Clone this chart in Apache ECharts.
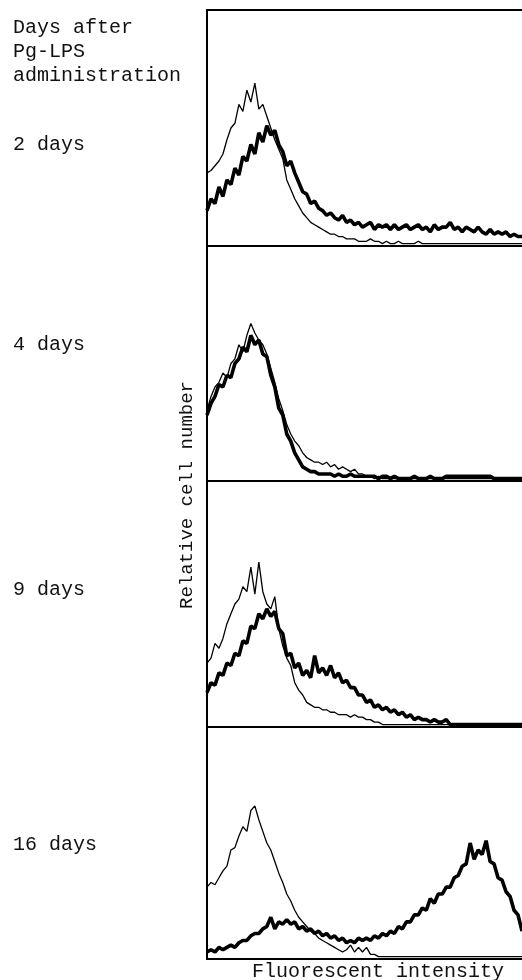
<!DOCTYPE html>
<html>
<head>
<meta charset="utf-8">
<script src="https://cdn.jsdelivr.net/npm/echarts@6/dist/echarts.min.js"></script>
<style>
html, body { margin: 0; padding: 0; background: #fff; }
#chart { width: 522px; height: 980px; }
</style>
</head>
<body>
<div id="chart"></div>
<script>
// text
const headerLines = ['Days after', 'Pg-LPS', 'administration']
const panelLabels = ['2 days', '4 days', '9 days', '16 days']
const xAxisLabel = 'Fluorescent intensity'
const yAxisLabel = 'Relative cell number'

// histograms, % of panel height, 80 channels each
// thin = control, thick = Pg-LPS
const thin2d = [31, 32, 34, 36, 39, 45, 50, 52, 60, 57,
  66, 61, 69, 58, 60, 55, 50, 45, 41, 37,
  28, 24, 20, 17, 14, 12, 10, 9, 8, 7,
  6, 5, 5, 4, 4, 3, 3, 3, 2, 2,
  2, 3, 2, 2, 1, 2, 1, 1, 2, 1,
  1, 1, 1, 2, 1, 1, 1, 1, 1, 1,
  1, 1, 1, 1, 1, 1, 1, 1, 1, 1,
  1, 1, 1, 1, 1, 1, 1, 1, 1, 1]
const thick2d = [15, 20, 18, 25, 21, 28, 26, 33, 30, 38,
  36, 43, 39, 48, 44, 51, 47, 49, 43, 40,
  34, 36, 31, 27, 23, 22, 18, 19, 16, 15,
  13, 14, 12, 11, 13, 10, 11, 9, 10, 8,
  9, 10, 7, 9, 8, 9, 7, 9, 7, 8,
  9, 7, 8, 9, 7, 8, 6, 9, 7, 8,
  8, 10, 7, 8, 6, 8, 7, 6, 8, 6,
  5, 7, 5, 6, 5, 6, 4, 5, 4, 4]

const thin4d = [30, 36, 40, 42, 46, 44, 50, 52, 58, 55,
  62, 67, 63, 60, 58, 54, 48, 42, 35, 30,
  24, 20, 17, 15, 12, 10, 9, 8, 8, 7,
  8, 6, 7, 5, 6, 5, 4, 5, 3, 3,
  2, 2, 1, 2, 1, 1, 1, 1, 1, 1,
  1, 1, 1, 1, 1, 1, 1, 1, 1, 1,
  1, 1, 1, 1, 1, 1, 1, 1, 1, 1,
  1, 1, 1, 1, 1, 1, 1, 1, 1, 1]
const thick4d = [28, 33, 36, 41, 40, 45, 44, 50, 52, 57,
  55, 62, 58, 60, 54, 53, 45, 40, 31, 28,
  20, 17, 12, 9, 6, 5, 4, 4, 3, 3,
  3, 3, 2, 3, 2, 2, 3, 2, 2, 2,
  2, 2, 2, 1, 2, 2, 1, 2, 1, 1,
  1, 1, 2, 1, 1, 1, 2, 1, 1, 1,
  2, 2, 2, 2, 2, 2, 2, 2, 2, 2,
  2, 2, 1, 1, 1, 1, 1, 1, 1, 1]

const thin9d = [26, 28, 34, 32, 36, 42, 46, 50, 52, 57,
  55, 65, 54, 67, 55, 50, 48, 53, 40, 33,
  28, 25, 18, 15, 13, 10, 9, 8, 8, 7,
  7, 6, 6, 5, 5, 5, 4, 5, 4, 4,
  3, 3, 2, 2, 1, 1, 1, 1, 1, 1,
  1, 1, 1, 1, 1, 1, 1, 1, 1, 1,
  1, 1, 1, 1, 1, 1, 1, 1, 1, 1,
  1, 1, 1, 1, 1, 1, 1, 1, 1, 1]
const thick9d = [14, 18, 17, 22, 21, 26, 25, 30, 29, 35,
  34, 41, 40, 46, 44, 48, 45, 47, 40, 38,
  29, 30, 24, 26, 21, 23, 20, 29, 22, 24,
  21, 25, 20, 22, 18, 19, 16, 16, 13, 13,
  10, 11, 8, 9, 7, 8, 6, 7, 5, 6,
  4, 5, 3, 4, 3, 3, 2, 3, 2, 2,
  3, 1, 1, 1, 1, 1, 1, 1, 1, 1,
  1, 1, 1, 1, 1, 1, 1, 1, 1, 1]

const thin16d = [31, 33, 32, 35, 38, 40, 47, 48, 53, 57,
  55, 64, 66, 60, 55, 50, 47, 42, 37, 33,
  28, 25, 21, 18, 16, 14, 12, 11, 9, 8,
  7, 6, 5, 4, 3, 4, 6, 3, 5, 3,
  5, 2, 2, 1, 1, 1, 1, 1, 1, 1,
  1, 1, 1, 1, 1, 1, 1, 1, 1, 1,
  1, 1, 1, 1, 1, 1, 1, 1, 1, 1,
  1, 1, 1, 1, 1, 1, 1, 1, 1, 1]
const thick16d = [3, 4, 3, 5, 4, 5, 6, 5, 7, 8,
  8, 10, 11, 11, 13, 14, 18, 13, 16, 15,
  17, 15, 16, 13, 14, 12, 13, 11, 12, 10,
  11, 9, 10, 8, 9, 7, 8, 7, 9, 8,
  9, 8, 10, 9, 11, 10, 12, 11, 14, 13,
  16, 16, 19, 19, 22, 21, 26, 24, 28, 28,
  31, 31, 35, 36, 40, 41, 50, 43, 47, 45,
  51, 42, 41, 35, 34, 29, 27, 21, 19, 12]

const thinSeries = [thin2d, thin4d, thin9d, thin16d]
const thickSeries = [thick2d, thick4d, thick9d, thick16d]

// panel layout (px); the frame is open on the right, cut by the page edge
const panelTops = [10, 246, 481, 727]
const panelHeights = [236, 235, 246, 232]
const labelYs = [145, 345, 590, 845]

const font = 'Liberation Mono'
const chart = echarts.init(document.getElementById('chart'))

const frameLine = { show: true, onZero: false, lineStyle: { color: '#000', width: 2 } }
const bareAxis = {
  axisLine: frameLine, axisTick: { show: false },
  axisLabel: { show: false }, splitLine: { show: false }
}

const grid = []
const xAxis = []
const yAxis = []
const series = []
panelTops.forEach((top, k) => {
  grid.push({ left: 207, right: 0, top: top, height: panelHeights[k] })
  xAxis.push(Object.assign({ type: 'value', gridIndex: k, min: 0, max: 79, position: 'bottom' }, bareAxis))
  yAxis.push(Object.assign({ type: 'value', gridIndex: k, min: 0, max: 100, position: 'left' }, bareAxis))
  series.push({
    type: 'line', xAxisIndex: k, yAxisIndex: k, showSymbol: false, silent: true,
    data: thinSeries[k].map((v, i) => [i, v]),
    lineStyle: { color: '#000', width: 1.3 }
  })
  series.push({
    type: 'line', xAxisIndex: k, yAxisIndex: k, showSymbol: false, silent: true,
    data: thickSeries[k].map((v, i) => [i, v]),
    lineStyle: { color: '#000', width: 3.6 }
  })
})
// top edge of the first panel
xAxis.push(Object.assign({ type: 'value', gridIndex: 0, min: 0, max: 79, position: 'top' }, bareAxis))

const textStyle = { fill: '#111', font: '20px "' + font + '"' }
const graphic = []
headerLines.forEach((t, i) => {
  graphic.push({ type: 'text', left: 13, top: 18 + i * 24,
    style: Object.assign({ text: t }, textStyle) })
})
panelLabels.forEach((t, i) => {
  graphic.push({ type: 'text', x: 13, y: labelYs[i],
    style: Object.assign({ text: t, textVerticalAlign: 'middle' }, textStyle) })
})
graphic.push({ type: 'text', x: 378, y: 972,
  style: Object.assign({ text: xAxisLabel, textAlign: 'center', textVerticalAlign: 'middle' }, textStyle) })
graphic.push({ type: 'text', x: 187, y: 495, rotation: Math.PI / 2,
  style: Object.assign({ text: yAxisLabel, textAlign: 'center', textVerticalAlign: 'middle' }, textStyle, { font: '19px "' + font + '"' }) })

chart.setOption({
  backgroundColor: '#fff',
  animation: false,
  grid: grid,
  xAxis: xAxis,
  yAxis: yAxis,
  series: series,
  graphic: graphic
})
</script>
</body>
</html>
